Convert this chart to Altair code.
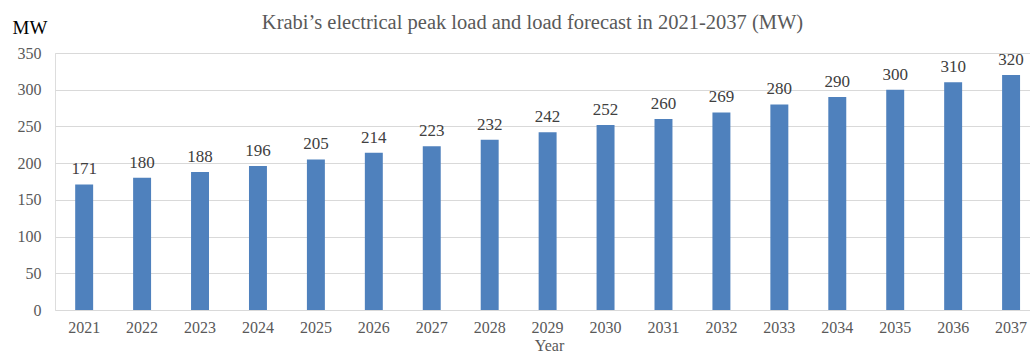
import altair as alt
import pandas as pd

years = [str(y) for y in range(2021, 2038)]
loads = [171, 180, 188, 196, 205, 214, 223, 232, 242, 252, 260, 269, 280, 290, 300, 310, 320]
y_ticks = [0, 50, 100, 150, 200, 250, 300, 350]

df = pd.DataFrame({"Year": years, "MW": loads})

FONT = "Liberation Serif"
GRAY = "#595959"

x = alt.X(
    "Year:N",
    sort=years,
    scale=alt.Scale(paddingInner=0.69, paddingOuter=0.26, align=0.67),
    axis=alt.Axis(
        title="Year", labelAngle=0, labelFont=FONT, labelFontSize=16, labelColor=GRAY,
        titleFont=FONT, titleFontSize=16, titleColor=GRAY, titleFontWeight="normal",
        ticks=False, domain=False, labelPadding=9, titlePadding=2, titleX=494,
    ),
)
y = alt.Y(
    "MW:Q",
    scale=alt.Scale(domain=[0, 350], nice=False),
    axis=alt.Axis(
        values=y_ticks, tickCount=8, title="MW", titleAngle=0,
        titleAlign="left", titleBaseline="alphabetic", titleX=-43, titleY=-20,
        titleFont=FONT, titleFontSize=19, titleColor="#000000", titleFontWeight="normal",
        labelFont=FONT, labelFontSize=16, labelColor=GRAY, ticks=False, domain=False,
        labelPadding=14, labelOverlap=False, gridColor="#d9d9d9", gridWidth=1,
    ),
)

base = alt.Chart(df).encode(x=x, y=y)
bars = base.mark_bar(color="#4F81BD")
labels = base.mark_text(
    font=FONT, fontSize=17, color="#404040", baseline="bottom", dy=-6
).encode(text="MW:Q")

chart = (
    alt.layer(bars, labels)
    .properties(
        width=975,
        height=257,
        padding={"left": 55, "top": 53, "right": 0, "bottom": 50},
        autosize=alt.AutoSizeParams(type="none"),
        title=alt.TitleParams(
            "Krabi\u2019s electrical peak load and load forecast in 2021-2037 (MW)",
            font=FONT, fontSize=20.5, fontWeight="normal", color=GRAY,
            anchor="middle", offset=0, dx=-10, dy=15,
        ),
    )
    .configure_view(stroke=None)
    .configure(background="white")
)

chart.save("out.html", embed_options={"renderer": "svg", "actions": False})
